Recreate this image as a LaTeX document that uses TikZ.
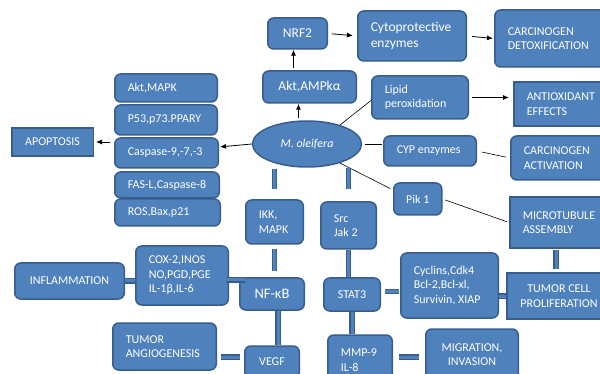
\documentclass[tikz,border=0pt]{standalone}
\usepackage{fontspec}
\setmainfont{Carlito}
\usetikzlibrary{arrows.meta,shapes.geometric}
\definecolor{boxfill}{RGB}{79,129,189}
\definecolor{boxline}{RGB}{56,93,138}
\hyphenpenalty=10000
\exhyphenpenalty=10000

\begin{document}
\begin{tikzpicture}[x=1pt, y=-1pt,
    box/.style={draw=boxline, fill=boxfill, line width=1.5pt, rounded corners=6pt,
      text=white, font=\fontsize{12}{14.5}\selectfont, inner xsep=13pt, inner ysep=1pt,
      anchor=west, align=flush left},
    sqbox/.style={box, sharp corners},
    big/.style={font=\fontsize{13.5}{16.5}\selectfont},
    arr/.style={-{Latex[length=6pt,width=5pt]}, line width=0.8pt},
    link/.style={line width=0.6pt},
    bar/.style={draw=boxline, line width=1.2pt, double=boxfill, double distance=3pt}]
            \useasboundingbox (0,0) rectangle (600,374);
            \clip (0,0) rectangle (600,374);

            % Centre
            \node[ellipse, draw=boxline, fill=boxfill, line width=1.5pt, text=white,
                  font=\fontsize{12}{14}\selectfont\itshape, minimum width=109pt,
                  minimum height=46pt, inner sep=0pt] (ell) at (307,144) {M. oleifera};

            % Upper branch
            \node[box, big, align=flush center, text width=33.5pt, minimum height=31pt] (nrf) at (267,33.5) {NRF2};
            \node[box, big, align=flush center, text width=67.5pt, minimum height=32pt] (aktampk) at (262,87) {Akt,AMPkα};
            \node[box, big, text width=82.5pt, minimum height=50pt] (cyto) at (357,36) {Cytoprotective\\enzymes};
            \node[box, text width=93.5pt, minimum height=57pt] (detox) at (494,38.5) {CARCINOGEN\\DETOXIFICATION};
            \node[box, text width=70.5pt, minimum height=43pt] (lipid) at (371,97.5) {Lipid\\peroxidation};
            \node[sqbox, text width=69.5pt, minimum height=44pt] (antiox) at (513,104) {ANTIOXIDANT\\EFFECTS};
            \node[box, text width=66.5pt, minimum height=30pt] (cyp) at (383,151) {CYP enzymes};
            \node[box, text width=77.5pt, minimum height=44pt] (carcact) at (510,158) {CARCINOGEN\\ACTIVATION};
            \node[box, align=flush center, inner xsep=11pt, text width=26pt, minimum height=32pt] (pik) at (393,199) {Pik 1};
            \node[sqbox, text width=75.5pt, minimum height=51pt] (micro) at (509,222.5) {MICROTUBULE\\ASSEMBLY};

            % Left column
            \node[box, text width=76.5pt, minimum height=28pt] (aktmapk) at (114,88) {Akt,MAPK};
            \node[box, text width=76.5pt, minimum height=30pt] (p53) at (114,120) {P53,p73.PPARY};
            \node[box, text width=77.5pt, minimum height=30pt] (casp) at (114,153) {Caspase-9,-7,-3};
            \node[box, text width=78.5pt, minimum height=26pt] (fas) at (114,185) {FAS-L,Caspase-8};
            \node[box, text width=79.5pt, minimum height=27pt] (ros) at (114,212.5) {ROS,Bax,p21};
            \node[sqbox, align=flush center, text width=55.5pt, minimum height=28pt] (apop) at (11,142) {APOPTOSIS};

            % NF-kB branch
            \node[box, text width=31.5pt, minimum height=44pt] (ikk) at (245,222) {IKK,\\MAPK};
            \node[box, align=flush center, text width=38.5pt, minimum height=32pt,
                  font=\fontsize{14.5}{17}\selectfont] (nfkb) at (239,294) {NF-κB};
            \node[box, align=flush center, text width=28.5pt, minimum height=32pt] (vegf) at (244,362) {VEGF};
            \node[box, text width=66.5pt, minimum height=59pt] (cox) at (135,275.5) {COX-2,INOS\\NO,PGD,PGE\\IL-1β,IL-6};
            \node[box, align=flush center, text width=83.5pt, minimum height=36pt] (infl) at (14,281) {INFLAMMATION};
            \node[box, text width=77.5pt, minimum height=47pt] (tang) at (112,346.5) {TUMOR\\ANGIOGENESIS};

            % STAT3 branch
            \node[box, text width=29.5pt, minimum height=47pt] (src) at (320,225.5) {Src\\Jak 2};
            \node[box, align=flush center, text width=30.5pt, minimum height=33pt] (stat) at (323,294.5) {STAT3};
            \node[box, text width=38.5pt, minimum height=50pt] (mmp) at (327,360) {MMP-9\\IL-8};
            \node[box, align=flush center, text width=66.5pt, minimum height=51pt] (migr) at (425,354.5) {MIGRATION,\\INVASION};
            \node[box, text width=71.5pt, minimum height=65pt] (cyc) at (400,285.5) {Cyclins,Cdk4\\Bcl-2,Bcl-xl,\\Survivin, XIAP};
            \node[sqbox, align=flush center, text width=78.5pt, minimum height=46pt] (tumcell) at (506,296) {TUMOR CELL\\PROLIFERATION};

            % Arrows
            \draw[arr, shorten <=3pt] (ell.110) -- (ell.110 |- aktampk.south);
            \draw[arr, shorten <=2pt] ([xshift=-4pt]nrf.south |- aktampk.north) -- ([xshift=-4pt]nrf.south);
            \draw[arr, shorten <=4pt, shorten >=4pt] (nrf.east) -- (cyto.west);
            \draw[arr, shorten <=5pt, shorten >=1pt] (cyto.east) -- (detox.west);
            \draw[arr, shorten <=3pt, shorten >=4pt] (lipid.east) -- (lipid.east -| antiox.west);
            \draw[arr, shorten >=1pt] (ell.west) -- ([yshift=-3pt]ell.west -| casp.east);
            \draw[arr, shorten <=4pt, shorten >=2pt] (apop.east -| casp.west) -- (apop.east);

            % Thin links
            \draw[link] (ell.30) -- ([yshift=-3pt]lipid.west);
            \draw[link, shorten <=3pt, shorten >=1pt] (ell.east) -- (ell.east -| cyp.west);
            \draw[link, shorten <=5pt, shorten >=4pt] (cyp.east) -- (carcact.west);
            \draw[link, shorten >=3pt] (ell.-30) -- (pik.160);
            \draw[link, shorten <=3pt, shorten >=2pt] (pik.east) -- (micro.west);

            % Bars
            \draw[bar, shorten <=1pt, shorten >=10pt] (ell.south -| ikk.north) -- (ikk.north);
            \draw[bar, shorten >=12pt] (ell.south -| src.north) -- (src.north);
            \draw[bar, shorten <=4pt, shorten >=6pt] (ikk.south) -- (ikk.south |- nfkb.north);
            \draw[bar] (src.south) -- (src.south |- stat.north);
            \draw[bar] ([xshift=6pt]nfkb.south) -- ([xshift=6pt]nfkb.south |- vegf.north);
            \draw[bar] (stat.south) -- (stat.south |- mmp.north);
            \draw[bar, shorten <=4pt, shorten >=1pt] ([yshift=3pt]stat.east) -- ([yshift=3pt]stat.east -| cyc.west);
            \draw[bar] (cyc.east |- tumcell.west) -- (tumcell.west);
            \draw[bar, shorten <=1pt, shorten >=3pt] ([xshift=-4.5pt]micro.south) -- ([xshift=-4.5pt]micro.south |- tumcell.north);
            \draw[bar, shorten <=6pt, shorten >=6pt] ([yshift=3pt]mmp.east) -- ([yshift=3pt]mmp.east -| migr.west);
            \draw[bar, shorten <=4pt, shorten >=4pt] ([yshift=5pt]vegf.west -| tang.east) -- ([yshift=5pt]vegf.west);
            \draw[bar, shorten <=-3pt, shorten >=-6pt] ([yshift=-4.5pt]cox.east) -- ([yshift=-4.5pt]cox.east -| nfkb.west);
            \draw[bar] (infl.east) -- (infl.east -| cox.west);
\end{tikzpicture}
\end{document}
